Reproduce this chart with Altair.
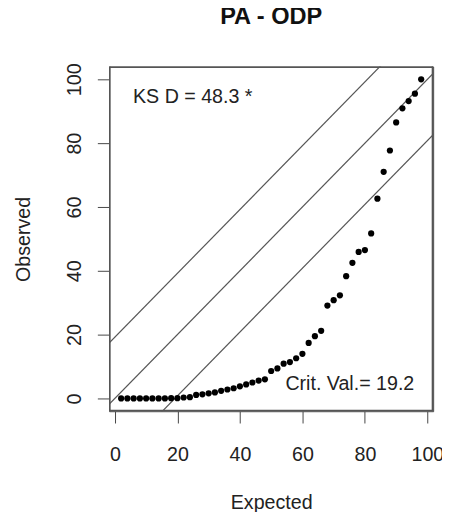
import altair as alt
import pandas as pd

# ---- data ----
expected = list(range(2, 100, 2))
observed = [
    0, 0, 0, 0, 0, 0, 0, 0, 0.1, 0.1,
    0.3, 0.4, 1.1, 1.3, 1.6, 1.9, 2.4, 2.8, 3.2, 3.8,
    4.4, 5.0, 5.6, 6.0, 8.6, 9.4, 10.9, 11.4, 12.6, 14.0,
    17.4, 19.5, 21.2, 29.1, 30.8, 32.3, 38.3, 42.5, 45.9, 46.5,
    51.7, 62.6, 71.0, 77.7, 86.5, 90.9, 93.2, 95.5, 100.0,
]
crit_val = 19.2
ks_d = 48.3
line_offsets = [-crit_val, 0.0, crit_val]
line_ends = [-30, 130]
tick_values = [0, 20, 40, 60, 80, 100]
x_domain = [-1.84, 101.84]
y_domain = [-4, 104]

FONT = "Liberation Sans"
INK = "#444444"

pts = pd.DataFrame({"Expected": expected, "Observed": observed})
lines = pd.DataFrame(
    [{"grp": i, "x": x, "y": x + off}
     for i, off in enumerate(line_offsets) for x in line_ends]
)

# frame as four thin filled strips (about 1.5 px) along the plot edges
dx = (x_domain[1] - x_domain[0]) * 1.5 / 330
dy = (y_domain[1] - y_domain[0]) * 1.5 / 351
x0, x1 = x_domain
y0, y1 = y_domain
frame = pd.DataFrame({
    "a": [x0, x1 - dx, x0, x0],
    "b": [x0 + dx, x1, x1, x1],
    "c": [y0, y0, y0, y1 - dy],
    "d": [y1, y1, y0 + dy, y1],
})

xs = alt.Scale(domain=x_domain, nice=False, zero=False)
ys = alt.Scale(domain=y_domain, nice=False, zero=False)

x_axis = alt.Axis(
    values=tick_values, tickSize=12, labelPadding=22, domain=False, grid=False,
    labelFontSize=20, labelFont=FONT, labelColor="#222", tickColor=INK,
    title="Expected", titleFont=FONT, titleFontSize=20, titleFontWeight="normal",
    titleColor="#222", titleX=165, titleY=99, titleBaseline="alphabetic",
    titleAlign="center", labelFlush=False, labelOverlap=False,
)
y_axis = alt.Axis(
    values=tick_values, tickSize=12, labelPadding=17, domain=False, grid=False,
    labelFontSize=20, labelFont=FONT, labelColor="#222", tickColor=INK,
    labelAngle=270, labelAlign="center", labelBaseline="alphabetic",
    title="Observed", titleFont=FONT, titleFontSize=20, titleFontWeight="normal",
    titleColor="#222", titleAngle=270, titleX=-81, titleY=175.5,
    titleBaseline="alphabetic", titleAlign="center",
    labelFlush=False, labelOverlap=False,
)

line_layer = alt.Chart(lines).mark_line(clip=True, color="#555", strokeWidth=1.2).encode(
    x=alt.X("x:Q", scale=xs, axis=x_axis),
    y=alt.Y("y:Q", scale=ys, axis=y_axis),
    detail="grp:N",
)

frame_layer = alt.Chart(frame).mark_rect(color="#555", opacity=1).encode(
    x=alt.X("a:Q", scale=xs), x2="b:Q",
    y=alt.Y("c:Q", scale=ys), y2="d:Q",
)

point_layer = alt.Chart(pts).mark_circle(color="black", size=40, opacity=1).encode(
    x=alt.X("Expected:Q", scale=xs),
    y=alt.Y("Observed:Q", scale=ys),
)

ks_text = alt.Chart(pts).mark_text(
    align="left", baseline="middle", fontSize=20, font=FONT, color="#222"
).encode(
    x=alt.datum(5.8, scale=xs), y=alt.datum(94.4, scale=ys),
    text=alt.value(f"KS D = {ks_d} *"),
).transform_filter("datum.Expected == 2")

crit_text = alt.Chart(pts).mark_text(
    align="right", baseline="middle", fontSize=20, font=FONT, color="#222"
).encode(
    x=alt.datum(95.8, scale=xs), y=alt.datum(4.4, scale=ys),
    text=alt.value(f"Crit. Val.= {crit_val}"),
).transform_filter("datum.Expected == 2")

chart = alt.layer(line_layer, frame_layer, point_layer, ks_text, crit_text).properties(
    width=330,
    height=351,
    title=alt.Title(
        "PA - ODP", fontSize=24, fontWeight="bold", font=FONT, color="#111",
        anchor="middle", frame="group", offset=35,
    ),
    autosize=alt.AutoSizeParams(type="none"),
    padding={"left": 103, "top": 55, "right": 9, "bottom": 98},
).configure(background="white").configure_view(stroke=INK, strokeWidth=1)

chart.save("out.html", embed_options={"renderer": "svg", "actions": False})
